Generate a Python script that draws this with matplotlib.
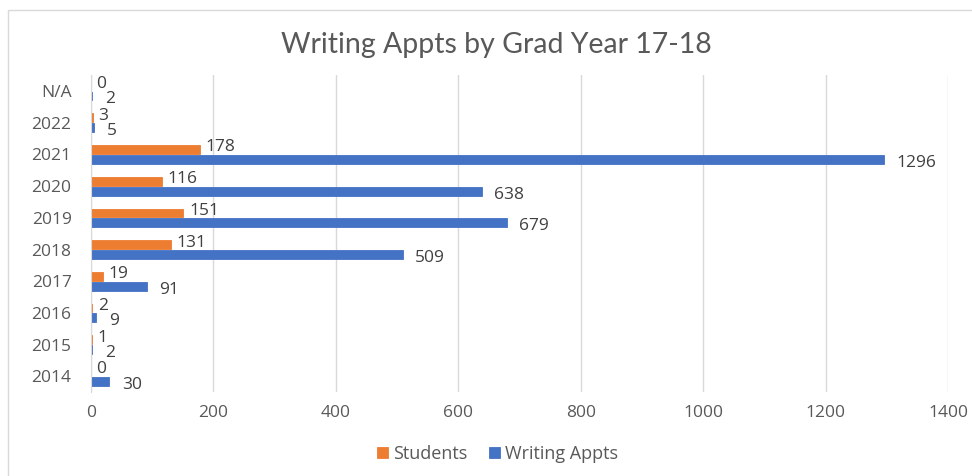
import matplotlib.pyplot as plt
import numpy as np
from matplotlib.patches import Rectangle

years = ['2014', '2015', '2016', '2017', '2018', '2019', '2020', '2021', '2022', 'N/A']
students = [0, 1, 2, 19, 131, 151, 116, 178, 3, 0]
appts = [30, 2, 9, 91, 509, 679, 638, 1296, 5, 2]

orange = '#ED7D31'
blue = '#4472C4'
grey = '#595959'

plt.rcParams['font.family'] = ['Open Sans', 'DejaVu Sans']

fig = plt.figure(figsize=(9.72, 4.76), dpi=100)
ax = fig.add_axes([0.0936, 0.176, 0.8817, 0.666])

y = np.arange(len(years))
h = 0.28
# thin edge so the tiny bars (1, 2, 3...) still show like in excel
ax.barh(y + 0.155, students, height=h, color=orange, edgecolor=orange, linewidth=0.6, label='Students')
ax.barh(y - 0.155, appts, height=h, color=blue, edgecolor=blue, linewidth=0.6, label='Writing Appts')

for i in range(len(years)):
    ax.annotate(str(students[i]), (students[i], y[i] + 0.155), xytext=(4, 1.5),
                textcoords='offset points', va='center', ha='left', fontsize=12.5, color='#404040')
    ax.annotate(str(appts[i]), (appts[i], y[i] - 0.155), xytext=(9, -2.5),
                textcoords='offset points', va='center', ha='left', fontsize=12.5, color='#404040')

ax.set_xlim(0, 1400)
ax.set_ylim(-0.5, len(years) - 0.5)
ax.set_xticks(range(0, 1401, 200))
ax.set_yticks(y)
ax.set_yticklabels(years)
ax.tick_params(length=0, colors=grey, labelsize=12.5)
ax.tick_params(axis='x', pad=9)
ax.tick_params(axis='y', pad=14)
ax.grid(axis='x', color='#D9D9D9', linewidth=1)
ax.set_axisbelow(True)
for s in ['top', 'right', 'bottom']:
    ax.spines[s].set_visible(False)
ax.spines['left'].set_color('#D9D9D9')

fig.text(0.511, 0.905, 'Writing Appts by Grad Year 17-18', ha='center', va='center',
         fontsize=20.5, color=grey, family=['Lato', 'DejaVu Sans'])

fig.legend(loc='center', bbox_to_anchor=(0.512, 0.046), ncol=2, frameon=False,
           fontsize=13, labelcolor=grey, handlelength=0.6, handleheight=0.6,
           columnspacing=1.2, handletextpad=0.3)

fig.add_artist(Rectangle((0.008, -0.01), 1.0, 0.99, transform=fig.transFigure,
                         fill=False, edgecolor='#D9D9D9', linewidth=1))

fig.savefig('out.png', dpi=100)
